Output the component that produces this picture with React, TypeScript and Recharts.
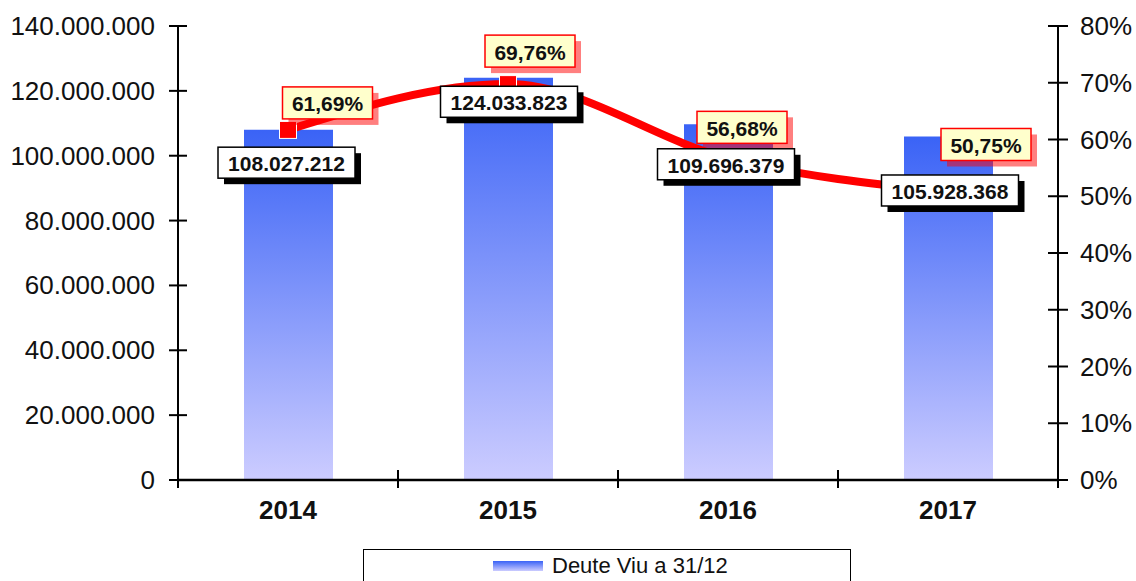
import React from "react";
import {
  ComposedChart, Bar, Line, XAxis, YAxis, Legend, LabelList,
} from "recharts";

const YEARS = ["2014", "2015", "2016", "2017"];
const DEUTE_VIU = [108027212, 124033823, 109696379, 105928368];
const RATIO = [61.69, 69.76, 56.68, 50.75];
const LEFT_TICKS = [0, 20000000, 40000000, 60000000, 80000000, 100000000, 120000000, 140000000];
const RIGHT_TICKS = [0, 10, 20, 30, 40, 50, 60, 70, 80];

// label nudges (px from the data point)
const BAR_LABEL_DX = [-1.5, 1, -2, 2];
const BAR_LABEL_DY = [33, 24, 40, 54];
const PCT_LABEL_DX = [39.5, 22, 14, 38];
const PCT_LABEL_DY = [-27, -33, -31, -47.5];

const data = YEARS.map((year, i) => ({ year, deute: DEUTE_VIU[i], ratio: RATIO[i] }));

const FONT = "'Liberation Sans', Arial, sans-serif";
const BLUE_TOP = "#3a63f6";
const BLUE_BOTTOM = "#ccccff";

const fmtNum = (v: number) => String(Math.round(v)).replace(/\B(?=(\d{3})+(?!\d))/g, ".");
const fmtPct = (v: number) => v.toFixed(2).replace(".", ",") + "%";

const LeftTick = ({ x, y, payload }: any) => (
  <g>
    <line x1={x + 23 - 9} x2={x + 23 + 9} y1={y} y2={y} stroke="#000" strokeWidth={2} />
    <text x={x} y={y} textAnchor="end" dominantBaseline="central" fontSize={26} fontFamily={FONT} fill="#111">
      {fmtNum(payload.value)}
    </text>
  </g>
);

const RightTick = ({ x, y, payload }: any) => (
  <g>
    <line x1={x - 22 - 10} x2={x - 22 + 10} y1={y} y2={y} stroke="#000" strokeWidth={2} />
    <text x={x} y={y} textAnchor="start" dominantBaseline="central" fontSize={26} fontFamily={FONT} fill="#111">
      {payload.value}%
    </text>
  </g>
);

const BottomTick = ({ x, y, payload, index, visibleTicksCount }: any) => {
  const half = payload.offset || 110;
  return (
    <g>
      <line x1={x - half} x2={x - half} y1={y - 40} y2={y - 22} stroke="#000" strokeWidth={2} />
      {index === visibleTicksCount - 1 && (
        <line x1={x + half} x2={x + half} y1={y - 40} y2={y - 22} stroke="#000" strokeWidth={2} />
      )}
      <text x={x} y={y} textAnchor="middle" dominantBaseline="central" fontSize={26} fontWeight="bold" fontFamily={FONT} fill="#111">
        {payload.value}
      </text>
    </g>
  );
};

const SquareDot = ({ cx, cy, index }: any) => (
  <rect key={`sq-${index}`} x={cx - 8.5} y={cy - 8.5} width={17} height={17} fill="#ff0000" stroke="#fff" strokeWidth={1} />
);

const BarValueLabel = ({ x, y, value, index }: any) => {
  const cx = x + BAR_LABEL_DX[index];
  const cy = y + BAR_LABEL_DY[index];
  const w = 137, h = 31;
  return (
    <g>
      <rect x={cx - w / 2 + 6} y={cy - h / 2 + 6} width={w} height={h} fill="#000" />
      <rect x={cx - w / 2} y={cy - h / 2} width={w} height={h} fill="#fff" stroke="#000" strokeWidth={1.5} />
      <text x={cx} y={cy + 1} textAnchor="middle" dominantBaseline="central" fontSize={21} fontWeight="bold" fontFamily={FONT} fill="#111">
        {fmtNum(value)}
      </text>
    </g>
  );
};

const PctLabel = ({ x, y, value, index }: any) => {
  const cx = x + PCT_LABEL_DX[index];
  const cy = y + PCT_LABEL_DY[index];
  const w = 90, h = 32;
  return (
    <g>
      <rect x={cx - w / 2 + 6} y={cy - h / 2 + 6} width={w} height={h} fill="rgba(255,0,0,0.5)" />
      <rect x={cx - w / 2} y={cy - h / 2} width={w} height={h} fill="#ffffcc" stroke="#ff0000" strokeWidth={1.5} />
      <text x={cx} y={cy + 1} textAnchor="middle" dominantBaseline="central" fontSize={21} fontWeight="bold" fontFamily={FONT} fill="#111">
        {fmtPct(value)}
      </text>
    </g>
  );
};

const LegendBox = () => (
  <div
    style={{
      height: 32, boxSizing: "border-box", borderTop: "1px solid #000", borderLeft: "1px solid #000",
      borderRight: "1px solid #000", display: "flex", alignItems: "center", paddingLeft: 129,
      fontFamily: FONT, fontSize: 22, color: "#111",
    }}
  >
    <span style={{ display: "inline-block", width: 50, height: 10, marginRight: 9, background: `linear-gradient(${BLUE_TOP}, ${BLUE_BOTTOM})` }} />
    <span>Deute Viu a 31/12</span>
  </div>
);

export default function App() {
  return (
    <div style={{ position: "absolute", left: 0, top: 0, width: 1136, height: 581, background: "#fff" }}>
      <ComposedChart width={1136} height={581} data={data} margin={{ top: 26, right: 0, left: 0, bottom: 0 }}>
        <defs>
          <linearGradient id="barGrad" x1="0" y1="0" x2="0" y2="1">
            <stop offset="0%" stopColor={BLUE_TOP} />
            <stop offset="100%" stopColor={BLUE_BOTTOM} />
          </linearGradient>
        </defs>
        <XAxis
          dataKey="year"
          height={69}
          tickSize={0}
          tickMargin={30}
          interval={0}
          tickLine={false}
          axisLine={{ stroke: "#000", strokeWidth: 2.5 }}
          tick={(p: any) => <BottomTick {...p} />}
        />
        <YAxis
          yAxisId="left"
          orientation="left"
          width={178}
          domain={[0, 140000000]}
          ticks={LEFT_TICKS}
          interval={0}
          tickSize={0}
          tickMargin={23}
          tickLine={false}
          axisLine={{ stroke: "#000", strokeWidth: 2 }}
          tick={(p: any) => <LeftTick {...p} />}
        />
        <YAxis
          yAxisId="right"
          orientation="right"
          width={78}
          domain={[0, 80]}
          ticks={RIGHT_TICKS}
          interval={0}
          tickSize={0}
          tickMargin={22}
          tickLine={false}
          axisLine={{ stroke: "#000", strokeWidth: 2 }}
          tick={(p: any) => <RightTick {...p} />}
        />
        <Legend verticalAlign="bottom" content={() => <LegendBox />} wrapperStyle={{ left: 363, width: 488, bottom: 0 }} />
        <Bar yAxisId="left" dataKey="deute" barSize={89} fill="url(#barGrad)" isAnimationActive={false} />
        <Line
          yAxisId="right"
          type="monotone"
          dataKey="ratio"
          stroke="#ff0000"
          strokeWidth={8}
          dot={(p: any) => <SquareDot {...p} />}
          activeDot={false}
          legendType="none"
          isAnimationActive={false}
        >
          <LabelList dataKey="ratio" content={(p: any) => <PctLabel {...p} />} />
        </Line>
        <Line
          yAxisId="left"
          dataKey="deute"
          stroke="none"
          dot={false}
          activeDot={false}
          legendType="none"
          isAnimationActive={false}
        >
          <LabelList dataKey="deute" content={(p: any) => <BarValueLabel {...p} />} />
        </Line>
      </ComposedChart>
    </div>
  );
}
